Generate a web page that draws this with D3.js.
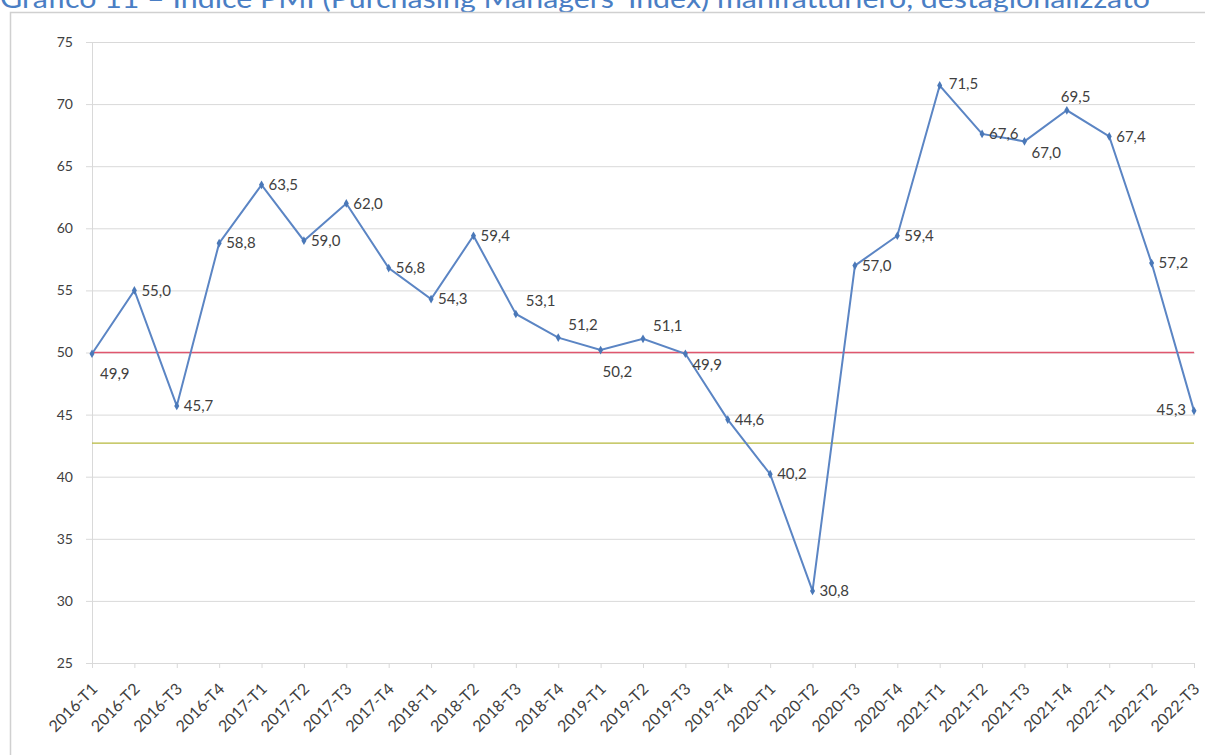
<!DOCTYPE html>
<html><head><meta charset="utf-8">
<script src="https://cdn.jsdelivr.net/npm/d3@7"></script>
<style>body{margin:0;background:#fff;overflow:hidden}text{font-family:Lato,"Open Sans",sans-serif}</style>
</head><body><svg id="c" width="1205" height="755"></svg>
<script>
const categories = ["2016-T1","2016-T2","2016-T3","2016-T4","2017-T1","2017-T2","2017-T3","2017-T4","2018-T1","2018-T2","2018-T3","2018-T4","2019-T1","2019-T2","2019-T3","2019-T4","2020-T1","2020-T2","2020-T3","2020-T4","2021-T1","2021-T2","2021-T3","2021-T4","2022-T1","2022-T2","2022-T3"];
const pmi = [49.9,55.0,45.7,58.8,63.5,59.0,62.0,56.8,54.3,59.4,53.1,51.2,50.2,51.1,49.9,44.6,40.2,30.8,57.0,59.4,71.5,67.6,67.0,69.5,67.4,57.2,45.3];
const yTicks = [25,30,35,40,45,50,55,60,65,70,75];
const refLevel = 50;
const lowLevel = 42.7;
const title = "Grafico 11 – Indice PMI (Purchasing Managers' Index) manifatturiero, destagionalizzato";
// label placement per point
const placement = ["br","r","r","r","r","r","r","r","r","r","ar","ar","b","ar","rb","r","r","r","r","r","ru","r","rb","a","r","r","l"];

const svg = d3.select("#c");
const M = {l:92, r:1194, t:42, b:663};

// title (cut off at the top like the reference)
svg.append("text").attr("x",0).attr("y",8).attr("font-size",26).attr("fill","#4a7ec4")
  .attr("font-family","'Open Sans',sans-serif").attr("textLength",1150).attr("lengthAdjust","spacingAndGlyphs").text(title);

// frame
svg.append("rect").attr("x",10.5).attr("y",12.5).attr("width",1205).attr("height",760)
  .attr("fill","#fff").attr("stroke","#d0d0d0").attr("stroke-width",1.5);

const x = d3.scalePoint().domain(categories).range([M.l, M.r]);
const y = d3.scaleLinear().domain([25,75]).range([M.b, M.t]);

// gridlines
svg.append("g").selectAll("line").data(yTicks).join("line")
  .attr("x1",M.l-6).attr("x2",M.r+1).attr("y1",d=>y(d)+0.5).attr("y2",d=>y(d)+0.5)
  .attr("stroke","#d9d9d9").attr("stroke-width",1);

// y axis
const ya = svg.append("g").attr("transform",`translate(${M.l},0)`)
  .call(d3.axisLeft(y).tickValues(yTicks).tickSize(0).tickPadding(19));
ya.select(".domain").attr("stroke","#d9d9d9");
ya.selectAll("text").attr("font-size",14).attr("fill","#404040").attr("font-family","Lato,sans-serif");

// x axis
const xa = svg.append("g").attr("transform",`translate(0,${M.b})`)
  .call(d3.axisBottom(x).tickSize(5).tickPadding(0));
xa.select(".domain").attr("stroke","#d9d9d9");
xa.selectAll("line").attr("stroke","#d9d9d9");
xa.selectAll("text").attr("font-size",16).attr("fill","#404040")
  .attr("text-anchor","end").attr("dy","0.35em").attr("y",0)
  .attr("transform","translate(2,23) rotate(-45)");

// reference lines
svg.append("line").attr("x1",M.l).attr("x2",M.r).attr("y1",y(refLevel)).attr("y2",y(refLevel))
  .attr("stroke","#e0566e").attr("stroke-width",1.5);
svg.append("line").attr("x1",M.l).attr("x2",M.r).attr("y1",y(lowLevel)).attr("y2",y(lowLevel))
  .attr("stroke","#b6b83c").attr("stroke-width",1.3);

// series
const data = categories.map((c,i)=>({c, v:pmi[i], p:placement[i]}));
svg.append("path").datum(data)
  .attr("d", d3.line().x(d=>x(d.c)).y(d=>y(d.v)))
  .attr("fill","none").attr("stroke","#5b85c4").attr("stroke-width",2);
svg.append("g").selectAll("path").data(data).join("path")
  .attr("d", d3.symbol().type(d3.symbolDiamond).size(22))
  .attr("transform", d=>`translate(${x(d.c)},${y(d.v)})`)
  .attr("fill","#4a78b8");

const off = {r:[7,0,"start"], ru:[9,-2,"start"], rb:[7,11,"start"], br:[8,20,"start"], b:[2,22,"start"],
             ar:[10,-13,"start"], a:[-6,-14,"start"], l:[-8,-1,"end"]};
svg.append("g").selectAll("text").data(data).join("text")
  .attr("x", d=>x(d.c)+off[d.p][0])
  .attr("y", d=>y(d.v)+off[d.p][1])
  .attr("dy","0.35em").attr("text-anchor", d=>off[d.p][2])
  .attr("font-size",15).attr("fill","#404040")
  .text(d=>d3.format(".1f")(d.v).replace(".",","));
</script></body></html>
